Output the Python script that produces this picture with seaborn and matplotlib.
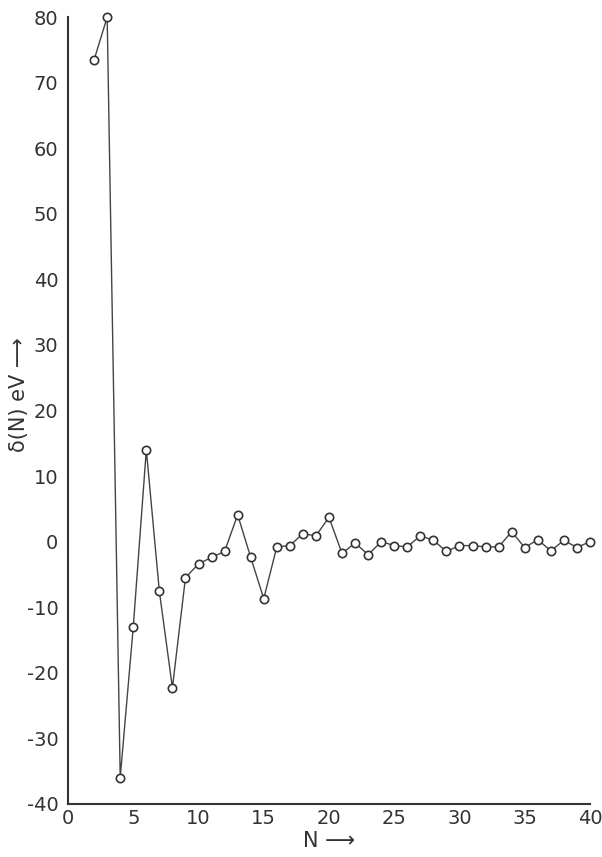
import matplotlib
matplotlib.use("Agg")
import matplotlib.pyplot as plt
import seaborn as sns
import numpy as np
import pandas as pd

N = list(range(2, 41))
delta = [73.5, 80.0, -36.0, -13.0, 14.0, -7.6, -22.3, -5.5, -3.4, -2.4,
         -1.5, 4.1, -2.4, -8.7, -0.8, -0.6, 1.2, 0.9, 3.7, -1.8,
         -0.2, -2.0, 0.0, -0.6, -0.8, 0.9, 0.2, -1.5, -0.6, -0.6,
         -0.8, -0.8, 1.5, -0.9, 0.3, -1.4, 0.2, -0.9, 0.0]
xticks = [0, 5, 10, 15, 20, 25, 30, 35, 40]
yticks = [-40, -30, -20, -10, 0, 10, 20, 30, 40, 50, 60, 70, 80]

df = pd.DataFrame({"N": N, "delta": delta})

sns.set_style("white")
plt.rcParams["font.family"] = ["DejaVu Sans"]
plt.rcParams["axes.unicode_minus"] = False

fig = plt.figure(figsize=(6.02, 8.57), dpi=100)
ax = fig.add_axes([0.113, 0.062, 0.867, 0.918])

sns.lineplot(data=df, x="N", y="delta", ax=ax, color="#444444", linewidth=1.0,
             marker="o", markersize=6, markerfacecolor="white",
             markeredgecolor="#333333", markeredgewidth=1.2, clip_on=False)

ax.set_xlim(0, 40)
ax.set_ylim(-40, 80)
ax.set_xticks(xticks)
ax.set_yticks(yticks)
ax.tick_params(axis="y", direction="out", length=5, width=1.2, labelsize=14,
               colors="#333333", pad=2)
ax.tick_params(axis="x", direction="in", length=5, width=1.2, labelsize=14,
               colors="#333333", pad=4)
for s in ["top", "right"]:
    ax.spines[s].set_visible(False)
for s in ["left", "bottom"]:
    ax.spines[s].set_linewidth(1.5)
    ax.spines[s].set_color("#333333")

ax.set_xlabel("N ⟶", fontsize=15, color="#333333", labelpad=2)
ax.set_ylabel("δ(N) eV ⟶", fontsize=15, color="#333333", labelpad=4)
ax.yaxis.set_label_coords(-0.075, 0.52)

fig.savefig("out.png", dpi=100)
